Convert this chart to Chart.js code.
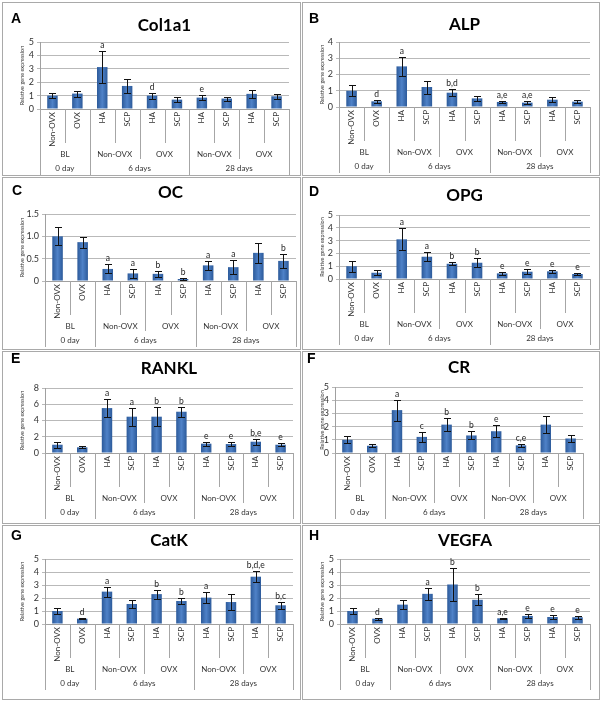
<!DOCTYPE html>
<html>
<head>
<meta charset="utf-8">
<script src="https://cdn.jsdelivr.net/npm/chart.js@4.4.0/dist/chart.umd.min.js"></script>
<style>
    body { margin: 0; width: 602px; height: 701px; position: relative; overflow: hidden; background: #fff; }
    .panel { position: absolute; box-sizing: border-box; border: 1px solid #a9a9a9; background: #fff; }
    .panel canvas { position: absolute; left: 0; top: 0; }
    .tag { position: absolute; font: bold 14px "Liberation Sans", Arial, sans-serif; line-height: 14px; color: #000; }
</style>
</head>
<body>
<script>
(function () {
    "use strict";

    /* category axis */
    const treatLabels = ['Non-OVX', 'OVX', 'HA', 'SCP', 'HA', 'SCP', 'HA', 'SCP', 'HA', 'SCP'];
    const groupLabels = ['BL', 'Non-OVX', 'OVX', 'Non-OVX', 'OVX'];
    const groupSpans = [2, 2, 2, 2, 2];
    const dayLabels = ['0 day', '6 days', '28 days'];
    const daySpans = [2, 4, 4];

    /* A Col1a1 */
    const col1a1Mean = [1.0, 1.15, 3.13, 1.72, 1.0, 0.7, 0.85, 0.78, 1.13, 0.95];
    const col1a1Err = [0.2, 0.22, 1.22, 0.5, 0.22, 0.16, 0.18, 0.15, 0.3, 0.18];
    const col1a1Sig = ['', '', 'a', '', 'd', '', 'e', '', '', ''];

    /* B ALP */
    const alpMean = [1.0, 0.35, 2.5, 1.23, 0.88, 0.53, 0.31, 0.27, 0.45, 0.33];
    const alpErr = [0.35, 0.1, 0.57, 0.4, 0.2, 0.15, 0.09, 0.1, 0.17, 0.11];
    const alpSig = ['', 'd', 'a', '', 'b,d', '', 'a,e', 'a,e', '', ''];

    /* C OC */
    const ocMean = [1.0, 0.87, 0.27, 0.17, 0.16, 0.045, 0.35, 0.31, 0.63, 0.45];
    const ocErr = [0.2, 0.12, 0.1, 0.1, 0.06, 0.025, 0.1, 0.16, 0.23, 0.16];
    const ocSig = ['', '', 'a', 'a', 'b', 'b', 'a', 'a', '', 'b'];

    /* D OPG */
    const opgMean = [1.0, 0.49, 3.1, 1.74, 1.19, 1.27, 0.44, 0.57, 0.6, 0.39];
    const opgErr = [0.42, 0.2, 0.86, 0.35, 0.13, 0.36, 0.12, 0.2, 0.1, 0.1];
    const opgSig = ['', '', 'a', 'a', 'b', 'b', 'e', 'e', 'e', 'e'];

    /* E RANKL */
    const ranklMean = [1.02, 0.7, 5.53, 4.47, 4.47, 5.08, 1.15, 1.1, 1.39, 1.02];
    const ranklErr = [0.35, 0.12, 1.1, 1.1, 1.2, 0.6, 0.25, 0.25, 0.35, 0.18];
    const ranklSig = ['', '', 'a', 'a', 'b', 'b', 'e', 'e', 'b,e', 'e'];

    /* F CR */
    const crMean = [1.0, 0.55, 3.25, 1.22, 2.15, 1.33, 1.65, 0.58, 2.15, 1.1];
    const crErr = [0.28, 0.1, 0.8, 0.38, 0.48, 0.3, 0.45, 0.12, 0.67, 0.28];
    const crSig = ['', '', 'a', 'c', 'b', 'b', 'e', 'c,e', '', ''];

    /* G CatK */
    const catkMean = [1.0, 0.41, 2.49, 1.54, 2.3, 1.77, 2.03, 1.69, 3.64, 1.44];
    const catkErr = [0.23, 0.06, 0.38, 0.31, 0.35, 0.25, 0.43, 0.62, 0.41, 0.28];
    const catkSig = ['', 'd', 'a', '', 'b', 'b', 'a', '', 'b,d,e', 'b,c'];

    /* H VEGFA */
    const vegfaMean = [1.0, 0.41, 1.49, 2.32, 3.04, 1.86, 0.44, 0.62, 0.54, 0.52];
    const vegfaErr = [0.2, 0.07, 0.37, 0.44, 1.26, 0.41, 0.06, 0.13, 0.13, 0.1];
    const vegfaSig = ['', 'd', '', 'a', 'b', 'b', 'a,e', 'e', 'e', 'e'];

    const LABEL_AREA = 66;

    // box = panel frame, plot = [left, right, top, bottom] of the plot area, page px
    const panels = [
        { tag: 'A', title: 'Col1a1', mean: col1a1Mean, err: col1a1Err, sig: col1a1Sig, yMax: 5, yStep: 1,
          box: [2, 2, 299, 174], plot: [40, 289, 42, 109], titleY: 26, tagPos: [11, 13] },
        { tag: 'B', title: 'ALP', mean: alpMean, err: alpErr, sig: alpSig, yMax: 4, yStep: 1,
          box: [302, 2, 298, 174], plot: [339, 590, 42, 107], titleY: 25, tagPos: [309, 13] },
        { tag: 'C', title: 'OC', mean: ocMean, err: ocErr, sig: ocSig, yMax: 1.5, yStep: 0.5,
          box: [2, 177, 299, 173], plot: [45, 296, 214, 281], titleY: 193, tagPos: [12, 185] },
        { tag: 'D', title: 'OPG', mean: opgMean, err: opgErr, sig: opgSig, yMax: 5, yStep: 1,
          box: [302, 177, 298, 173], plot: [339, 590, 215, 279], titleY: 196, tagPos: [309, 186] },
        { tag: 'E', title: 'RANKL', mean: ranklMean, err: ranklErr, sig: ranklSig, yMax: 8, yStep: 2,
          box: [2, 351, 299, 173], plot: [45, 293, 388, 453], titleY: 369, tagPos: [11, 353] },
        { tag: 'F', title: 'CR', mean: crMean, err: crErr, sig: crSig, yMax: 5, yStep: 1,
          box: [302, 351, 298, 173], plot: [335, 583, 387, 453], titleY: 368, tagPos: [307, 353] },
        { tag: 'G', title: 'CatK', mean: catkMean, err: catkErr, sig: catkSig, yMax: 5, yStep: 1,
          box: [2, 525, 299, 175], plot: [45, 293, 559, 624], titleY: 541, tagPos: [11, 530] },
        { tag: 'H', title: 'VEGFA', mean: vegfaMean, err: vegfaErr, sig: vegfaSig, yMax: 5, yStep: 1,
          box: [302, 525, 298, 175], plot: [340, 590, 559, 624], titleY: 541, tagPos: [309, 530] }
    ];

    function edges(spans) {
        const out = [0];
        spans.forEach(function (s) { out.push(out[out.length - 1] + s); });
        return out;
    }

    /* excel-ish shaded bars */
    const barShade = {
        id: 'barShade',
        beforeDatasetsDraw(chart) {
            const ctx = chart.ctx;
            chart.getDatasetMeta(0).data.forEach(function (bar) {
                const half = bar.width / 2;
                const g = ctx.createLinearGradient(bar.x - half, 0, bar.x + half, 0);
                g.addColorStop(0, '#2c5a9a');
                g.addColorStop(0.5, '#4f82c8');
                g.addColorStop(1, '#2c5a9a');
                bar.options = Object.assign({}, bar.options, { backgroundColor: g });
            });
        }
    };

    /* error bars + significance letters */
    const errorBars = {
        id: 'errorBars',
        afterDatasetsDraw(chart) {
            const y = chart.scales.y, ctx = chart.ctx;
            const ds = chart.data.datasets[0];
            ctx.save();
            ctx.strokeStyle = '#111';
            ctx.lineWidth = 1;
            ctx.fillStyle = '#222';
            ctx.font = '8.5px Lato';
            ctx.textAlign = 'center';
            ctx.textBaseline = 'bottom';
            chart.getDatasetMeta(0).data.forEach(function (bar, i) {
                const v = ds.data[i], e = ds.errors[i];
                const yt = Math.round(y.getPixelForValue(v + e)) + 0.5;
                const yb = Math.round(y.getPixelForValue(v - e)) + 0.5;
                const cx = Math.round(bar.x) + 0.5;
                ctx.beginPath();
                ctx.moveTo(cx, yt); ctx.lineTo(cx, yb);
                ctx.moveTo(cx - 3.5, yt); ctx.lineTo(cx + 3.5, yt);
                ctx.moveTo(cx - 3.5, yb); ctx.lineTo(cx + 3.5, yb);
                ctx.stroke();
                if (ds.sig[i]) ctx.fillText(ds.sig[i], bar.x, yt - 2);
            });
            ctx.restore();
        }
    };

    /* group rows under the category ticks */
    const groupAxis = {
        id: 'groupAxis',
        afterDraw(chart) {
            const x = chart.scales.x, ctx = chart.ctx;
            const n = treatLabels.length;
            const step = (x.right - x.left) / n;
            const top = x.top;
            const gE = edges(groupSpans), dE = edges(daySpans);
            ctx.save();
            ctx.strokeStyle = '#a6a6a6';
            ctx.lineWidth = 1;
            for (let k = 0; k <= n; k++) {
                const px = Math.round(x.left + k * step) + 0.5;
                let len = 34;
                if (dE.includes(k)) len = LABEL_AREA;
                else if (gE.includes(k)) len = 50;
                ctx.beginPath();
                ctx.moveTo(px, top);
                ctx.lineTo(px, top + len);
                ctx.stroke();
            }
            ctx.fillStyle = '#333';
            ctx.font = '8px Lato';
            ctx.textAlign = 'center';
            ctx.textBaseline = 'middle';
            let k0 = 0;
            groupLabels.forEach(function (g, i) {
                ctx.fillText(g, x.left + (k0 + groupSpans[i] / 2) * step, top + 45);
                k0 += groupSpans[i];
            });
            k0 = 0;
            dayLabels.forEach(function (d, i) {
                ctx.fillText(d, x.left + (k0 + daySpans[i] / 2) * step, top + 59);
                k0 += daySpans[i];
            });
            ctx.restore();
        }
    };

    panels.forEach(function (p) {
        const bx = p.box[0], by = p.box[1], bw = p.box[2], bh = p.box[3];
        const pl = p.plot[0], pr = p.plot[1], pt = p.plot[2], pb = p.plot[3];
        const cl = bx + 1, ct = by + 1, cw = bw - 2, ch = bh - 2;

        const div = document.createElement('div');
        div.className = 'panel';
        div.style.cssText = 'left:' + bx + 'px;top:' + by + 'px;width:' + bw + 'px;height:' + bh + 'px';
        const canvas = document.createElement('canvas');
        canvas.width = cw;
        canvas.height = ch;
        canvas.style.width = cw + 'px';
        canvas.style.height = ch + 'px';
        div.appendChild(canvas);
        const tag = document.createElement('div');
        tag.className = 'tag';
        tag.textContent = p.tag;
        tag.style.left = (p.tagPos[0] - cl) + 'px';
        tag.style.top = (p.tagPos[1] - ct - 2) + 'px';
        div.appendChild(tag);
        document.body.appendChild(div);

        const titleLine = 17 * 1.2;
        const titlePadTop = p.titleY - ct - titleLine / 2;
        const titlePadBottom = (pt - ct) - titlePadTop - titleLine;

        const config = {
            type: 'bar',
            data: {
                labels: treatLabels,
                datasets: [{
                    data: p.mean,
                    errors: p.err,
                    sig: p.sig,
                    backgroundColor: '#3d6fb6',
                    barPercentage: 0.42,
                    categoryPercentage: 1
                }]
            },
            options: {
                responsive: false,
                animation: false,
                devicePixelRatio: 1,
                layout: {
                    padding: { left: 12, right: cl + cw - pr, top: 0, bottom: ct + ch - pb - LABEL_AREA }
                },
                plugins: {
                    legend: { display: false },
                    tooltip: { enabled: false },
                    title: {
                        display: true,
                        text: p.title,
                        fullSize: false,
                        color: '#000',
                        font: { family: 'Lato', size: 17, weight: 'bold', lineHeight: 1.2 },
                        padding: { top: titlePadTop, bottom: titlePadBottom }
                    }
                },
                scales: {
                    x: {
                        ticks: {
                            minRotation: 90, maxRotation: 90, autoSkip: false, padding: 3,
                            color: '#333', font: { family: 'Lato', size: 8 }
                        },
                        grid: { display: false, drawTicks: false },
                        border: { color: '#a0a0a0' },
                        afterFit: function (axis) { axis.height = LABEL_AREA; }
                    },
                    y: {
                        min: 0,
                        max: p.yMax,
                        ticks: {
                            stepSize: p.yStep, autoSkip: false, padding: 3,
                            color: '#333', font: { family: 'Lato', size: 9 }
                        },
                        grid: { color: '#b9b9b9', tickLength: 3 },
                        border: { color: '#a0a0a0' },
                        title: {
                            display: true,
                            text: 'Relative gene expression',
                            color: '#333',
                            font: { family: 'Lato', size: 5.5 },
                            padding: { top: 4, bottom: 2 }
                        },
                        afterFit: function (axis) { axis.width = pl - cl - 12; }
                    }
                }
            },
            plugins: [barShade, errorBars, groupAxis]
        };
        new Chart(canvas, config);
    });
})();
</script>
</body>
</html>
